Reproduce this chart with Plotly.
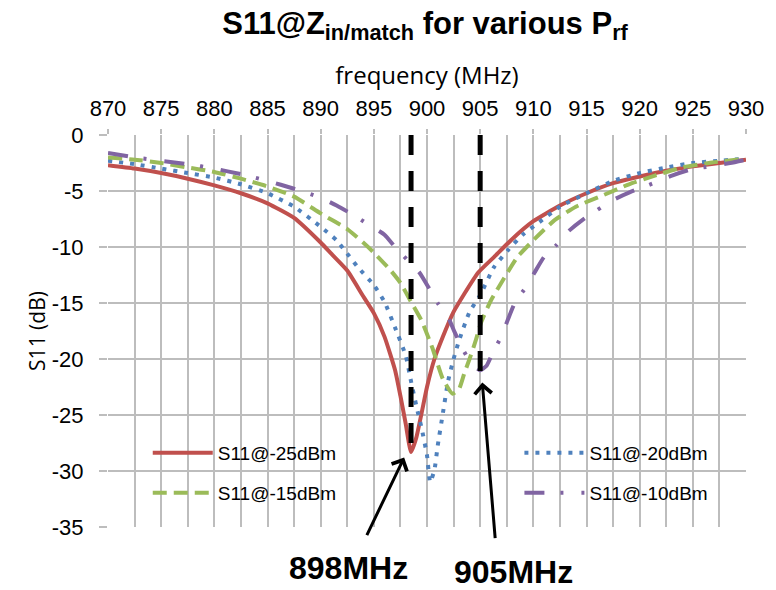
import plotly.graph_objects as go

# ---------------- data ----------------
freq_25 = [870, 872.5, 875, 877.5, 880, 882.5, 885, 887.5, 890, 891, 892.5, 894, 895, 896, 897,
           897.5, 898, 898.5, 899, 899.5, 900, 900.7, 901.5, 902.5, 903.5, 904.8, 906.3, 908,
           910, 912.5, 915, 917.5, 920, 922.5, 925, 927.5, 930]
s11_25 = [-2.7, -3.0, -3.4, -3.9, -4.5, -5.2, -6.1, -7.4, -9.6, -10.6, -12.1, -14.4, -15.9, -18.0, -21.0,
          -23.3, -25.8, -28.3, -27.0, -24.8, -22.5, -20.0, -18.0, -15.8, -14.2, -12.3, -10.9, -9.3,
          -7.7, -6.3, -5.2, -4.3, -3.7, -3.2, -2.8, -2.5, -2.2]

freq_20 = [870, 872.5, 875, 877.5, 880, 882.5, 885, 887.5, 890, 891.5, 892.5, 893.5, 895, 896, 897,
           898, 898.5, 899, 899.5, 900, 900.3, 900.7, 901, 901.5, 902, 902.5, 903, 904, 905, 906.3,
           907.6, 909, 910.4, 912.5, 915, 917.5, 920, 922.5, 925, 927.5, 930]
s11_20 = [-2.3, -2.6, -3.0, -3.4, -3.8, -4.4, -5.2, -6.4, -8.2, -9.4, -10.6, -11.8, -13.4, -14.9, -17.2,
          -19.7, -22.0, -24.2, -26.2, -28.6, -31.0, -29.9, -27.8, -24.8, -21.9, -20.0, -18.4, -15.8, -14.3, -11.8,
          -10.3, -8.9, -7.9, -6.4, -5.2, -4.1, -3.4, -2.9, -2.5, -2.3, -2.1]

freq_15 = [870, 872.5, 875, 877.5, 880, 882.5, 885, 887.5, 890, 892.5, 894, 895, 896.5, 897.5, 898.5,
           899.5, 900.5, 901.5, 902.4, 903, 903.5, 904, 904.6, 905.1, 906, 907.3, 908.5, 910, 912,
           914, 916.5, 919, 921.5, 924, 926.5, 930]
s11_15 = [-2.0, -2.2, -2.5, -2.9, -3.3, -3.9, -4.6, -5.5, -7.0, -8.4, -9.6, -10.5, -12.0, -13.2, -14.9,
          -16.6, -19.0, -21.8, -23.1, -22.7, -21.3, -20.0, -18.3, -16.7, -14.8, -12.7, -10.9, -9.4, -7.6,
          -6.4, -5.4, -4.4, -3.6, -2.9, -2.5, -2.1]

freq_10 = [870, 872.5, 875, 877.5, 880, 882.5, 885, 887.5, 890, 891.5, 893, 894.5, 896, 897, 898.2,
           899.3, 900.2, 901, 902, 902.6, 903.4, 904.2, 905, 905.6, 906.3, 907, 907.6, 908.3, 909.3,
           910.1, 911, 912.2, 913.3, 914.6, 916, 917.5, 919.1, 921.3, 923.1, 924.7, 926.6, 928.5, 930]
s11_10 = [-1.6, -2.0, -2.3, -2.6, -3.0, -3.5, -4.1, -4.8, -5.6, -6.3, -7.1, -8.0, -8.9, -10.0, -11.2,
          -12.3, -13.7, -15.0, -16.3, -17.6, -19.2, -20.4, -21.0, -20.6, -19.2, -18.0, -16.5, -14.9, -13.6,
          -12.3, -10.9, -9.8, -8.6, -7.6, -6.7, -5.8, -5.1, -4.3, -3.6, -3.1, -2.8, -2.5, -2.2]

series_names = ["S11@-25dBm", "S11@-20dBm", "S11@-15dBm", "S11@-10dBm"]
series_colors = ["#C0504D", "#4F81BD", "#9BBB59", "#8064A2"]
series_dash = ["solid", "4px,7px", "14px,7px", "20px,16px,3px,18px"]

# marker lines (frequency, S11 value where the dashed line ends)
marker_freqs = [898.5, 905]
marker_ends = [-27.8, -21.1]
marker_labels = ["898MHz", "905MHz"]
# arrow tip positions (data coordinates)
arrow_tip_x = [897.85, 905.2]
arrow_tip_y = [-28.8, -22.1]

x_ticks = [870, 875, 880, 885, 890, 895, 900, 905, 910, 915, 920, 925, 930]
y_ticks = [0, -5, -10, -15, -20, -25, -30, -35]
y_tick_text = ["0", "-5", "-10", "-15", "-20", "-25", "-30", "-35"]

# ---------------- figure ----------------
fig = go.Figure()
xs = [freq_25, freq_20, freq_15, freq_10]
ys = [s11_25, s11_20, s11_15, s11_10]
legend_ids = ["legend", "legend2", "legend3", "legend4"]
for i in range(4):
    fig.add_trace(go.Scatter(
        x=xs[i], y=ys[i], mode="lines", name=series_names[i],
        line=dict(color=series_colors[i], width=4, dash=series_dash[i],
                  shape="spline", smoothing=0.5),
        legend=legend_ids[i], showlegend=True,
    ))

for fx, fy in zip(marker_freqs, marker_ends):
    fig.add_shape(type="line", xref="x", yref="y", x0=fx, x1=fx, y0=0, y1=fy,
                  line=dict(color="black", width=5, dash="20px,16px"), layer="above")

arrow_offsets = [(-38, 79), (13, 157)]
for tx, ty, (axp, ayp) in zip(arrow_tip_x, arrow_tip_y, arrow_offsets):
    fig.add_annotation(x=tx, y=ty, xref="x", yref="y", text="", showarrow=True,
                       ax=axp, ay=ayp, arrowhead=4, arrowsize=1.1, arrowwidth=3,
                       arrowcolor="black")

W, H = 768, 582
ML, MR, MT, MB = 100, 26, 127, 63
PW, PH = W - ML - MR, H - MT - MB

label_px = [(342, 560), (508, 564)]
for (px, py), txt in zip(label_px, marker_labels):
    fig.add_annotation(x=(px - ML) / PW, y=-(py - (H - MB)) / PH, xref="paper", yref="paper",
                       text="<b>" + txt + "</b>", showarrow=False,
                       font=dict(family="Liberation Sans, Arial", size=32, color="black"),
                       xanchor="center", yanchor="middle")

grid_c = "#BDBDBD"
fig.update_layout(
    width=W, height=H,
    margin=dict(l=ML, r=MR, t=MT, b=MB),
    paper_bgcolor="white", plot_bgcolor="white",
    title=dict(text="<b>S11@Z<sub>in/match</sub> for various P<sub>rf</sub></b>",
               x=417 / W, xanchor="center", y=1 - 15 / H, yanchor="middle",
               font=dict(family="Liberation Sans, Arial", size=31, color="black")),
    xaxis=dict(side="top", range=[870, 930], tickvals=x_ticks,
               ticks="outside", ticklen=5, tickcolor=grid_c, tickwidth=1.5,
               showgrid=True, gridcolor=grid_c, gridwidth=1.5,
               minor=dict(dtick=2.5, showgrid=True, gridcolor=grid_c, gridwidth=1.5, ticks=""),
               showline=False, zeroline=False, ticklabelstandoff=4,
               tickfont=dict(family="Liberation Sans, Arial", size=22, color="black"),
               title=dict(text="frequency (MHz)", standoff=4,
                          font=dict(family="Open Sans, Lato", size=24, color="black"))),
    yaxis=dict(range=[-35, 0], tickvals=y_ticks, ticktext=y_tick_text,
               ticks="outside", ticklen=8, tickcolor=grid_c, tickwidth=1.5,
               showgrid=True, gridcolor=grid_c, gridwidth=1.5,
               showline=False, zeroline=False, ticklabelstandoff=11,
               tickfont=dict(family="Liberation Sans, Arial", size=22, color="black"),
               title=dict(text="S11 (dB)", standoff=0,
                          font=dict(family="Open Sans, Lato", size=21, color="black"))),
    showlegend=True,
)

leg_common = dict(bgcolor="rgba(0,0,0,0)", borderwidth=0, itemwidth=60,
                  font=dict(family="Liberation Sans, Arial", size=19, color="black"),
                  xanchor="left", yanchor="middle", itemclick=False)
row_y = [(H - MB - 445) / PH, (H - MB - 485) / PH]
col_x = [40 / PW, 414 / PW]
fig.update_layout(
    legend=dict(x=col_x[0], y=row_y[0], **leg_common),
    legend2=dict(x=col_x[1], y=row_y[0], **leg_common),
    legend3=dict(x=col_x[0], y=row_y[1], **leg_common),
    legend4=dict(x=col_x[1], y=row_y[1], **leg_common),
)

fig.write_html("out.html")
